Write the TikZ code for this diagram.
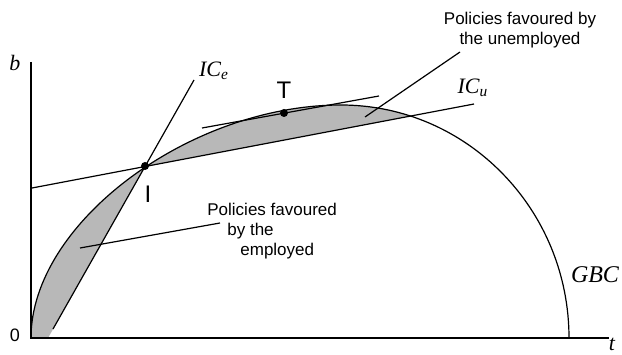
\documentclass[tikz,border=0pt]{standalone}
\usepackage{fontspec}
\setmainfont{Liberation Serif}
\setsansfont{Liberation Sans}
\newcommand{\ic}[1]{\textit{IC}\textsubscript{\textit{#1}}}
\tikzset{
	curve/.style = {line width = 0.6pt},
	shaded/.style = {fill = black!28},
	note/.style = {font = \sffamily\fontsize{8.5}{10}\selectfont, inner sep = 0pt},
	mathlbl/.style = {font = \fontsize{11}{12}\selectfont\itshape, inner sep = 0pt},
	ptlbl/.style = {font = \sffamily\fontsize{12}{12}\selectfont, inner sep = 0pt},
	dot/.style = {circle, fill, inner sep = 0pt, minimum size = 4pt}
}

\begin{document}
\begin{tikzpicture}[x = 0.5pt, y = 0.5pt]
	\useasboundingbox (0,0) rectangle (622,354);
	\coordinate (O) at (31,16);
	\coordinate (bTop) at (31,292);
	\coordinate (tEnd) at (609,16);
	\coordinate (Top) at (341,249);
	\coordinate (ICeLow) at (53,25);
	\coordinate (ICeHigh) at (194,274);
	\coordinate (ICuLeft) at (32,166);
	\coordinate (ICuRight) at (474,250);
	\coordinate (tanLeft) at (202,226);
	\coordinate (tanRight) at (379,258);
	% shaded areas
	\begin{scope}
		\clip (O) .. controls (31,131) and (190,249) .. (Top)
			arc[start angle = 90, end angle = 0, x radius = 228, y radius = 233] -- cycle;
		\fill[shaded] (39,0) -- (ICeHigh) -- (0,274) -- (0,0) -- cycle;
		\fill[shaded] (0,160) -- (ICuLeft) -- (ICuRight) -- (622,278) -- (622,354) -- (0,354) -- cycle;
	\end{scope}
	% axes and curves
	\draw[curve] (bTop) -- (O) -- (tEnd);
	\draw[curve] (O) .. controls (31,131) and (190,249) .. (Top)
		arc[start angle = 90, end angle = 0, x radius = 228, y radius = 233];
	\draw[curve] (ICeLow) -- (ICeHigh);
	\draw[curve] (ICuLeft) -- (ICuRight);
	\draw[curve] (tanLeft) -- (tanRight);
	\node[dot] (I) at (145,188) {};
	\node[dot] (T) at (284,241) {};
	\node[ptlbl] (Ilbl) at (148,160) {I};
	\node[ptlbl] (Tlbl) at (284,264) {T};
	\node[mathlbl] (b) at (15,291) {b};
	\node[mathlbl] (t) at (612,10) {t};
	\node[ptlbl, font = \sffamily\fontsize{9}{9}\selectfont] (zero) at (15,19) {0};
	\node[mathlbl] (ICe) at (214,283) {\ic{e}};
	\node[mathlbl] (ICu) at (473,266) {\ic{u}};
	\node[mathlbl, font = \fontsize{12}{12}\selectfont\itshape] (GBC) at (595,79) {GBC};
	% notes
	\node[note, align = center] (unemp) at (520,324) {Policies favoured by\\the unemployed};
	\coordinate (uStart) at (460,302);
	\coordinate (uEnd) at (365,237);
	\draw[curve] (uStart) -- (uEnd);
	\node[note, align = left, anchor = west] (emp) at (207,123)
		{Policies favoured\\\hspace*{10pt}by the\\\hspace*{16.5pt}employed};
	\coordinate (eStart) at (220,131);
	\coordinate (eEnd) at (80,106);
	\draw[curve] (eStart) -- (eEnd);
\end{tikzpicture}
\end{document}
